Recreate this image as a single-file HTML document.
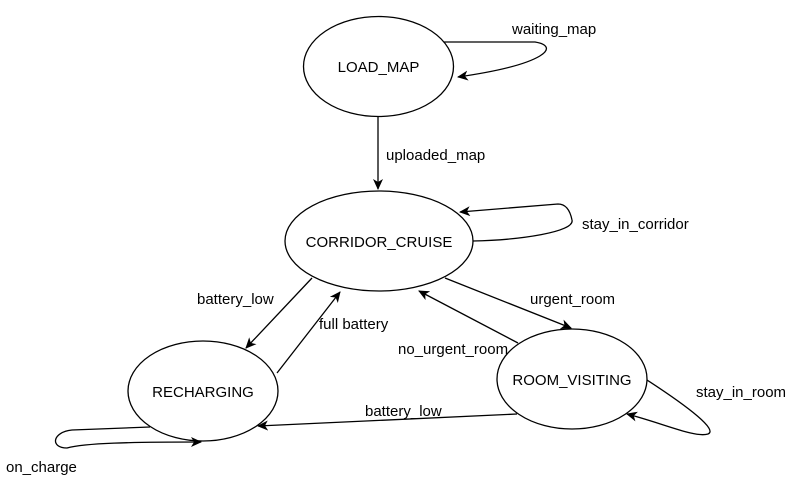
<!DOCTYPE html>
<html><head><style>
html,body{margin:0;padding:0;background:#fff;}
svg{display:block;}
text{font-family:"Liberation Sans",Arial,sans-serif;font-size:15px;fill:#000;}
</style></head><body>
<svg width="799" height="480" viewBox="0 0 799 480">
<defs>
<marker id="a" markerWidth="12" markerHeight="10" refX="10" refY="5" orient="auto" markerUnits="userSpaceOnUse">
<path d="M0,0 L11,5 L0,10 L3,5 Z" fill="#000"/>
</marker>
</defs>
<g fill="none" stroke="#000" stroke-width="1.3">
<ellipse cx="378.5" cy="66.5" rx="75" ry="50"/>
<ellipse cx="379" cy="241" rx="94" ry="50"/>
<ellipse cx="203" cy="391" rx="75" ry="50"/>
<ellipse cx="572" cy="379" rx="75" ry="50"/>

<path d="M378,116 L378,189" marker-end="url(#a)"/>
<path d="M444,42 L535,42 C 560,46 548,64 458,77" marker-end="url(#a)"/>
<path d="M473,241 C 520,240 575,232 572,220 C 570,210 566,204 558,204 L 460,212" marker-end="url(#a)"/>
<path d="M312,278 L246,348" marker-end="url(#a)"/>
<path d="M277,373 L340,292" marker-end="url(#a)"/>
<path d="M445,278 L571,328" marker-end="url(#a)"/>
<path d="M518,343 L419,291" marker-end="url(#a)"/>
<path d="M517,414 L258,426" marker-end="url(#a)"/>
<path d="M150,427 L72,430 C 52,432 50,448 67,448 C 85,443 130,442 201,442" marker-end="url(#a)"/>
<path d="M647,380 C 690,408 718,430 708,434 C 695,438 665,424 627,414" marker-end="url(#a)"/>
</g>
<text x="378.5" y="72" text-anchor="middle">LOAD_MAP</text>
<text x="379" y="247" text-anchor="middle">CORRIDOR_CRUISE</text>
<text x="203" y="397" text-anchor="middle">RECHARGING</text>
<text x="572" y="385" text-anchor="middle">ROOM_VISITING</text>
<text x="512" y="34">waiting_map</text>
<text x="386" y="160">uploaded_map</text>
<text x="582" y="229">stay_in_corridor</text>
<text x="197" y="304">battery_low</text>
<text x="319" y="329">full battery</text>
<text x="530" y="304">urgent_room</text>
<text x="398" y="354">no_urgent_room</text>
<text x="365" y="416">battery_low</text>
<text x="696" y="397">stay_in_room</text>
<text x="6" y="472">on_charge</text>
</svg>
</body></html>
